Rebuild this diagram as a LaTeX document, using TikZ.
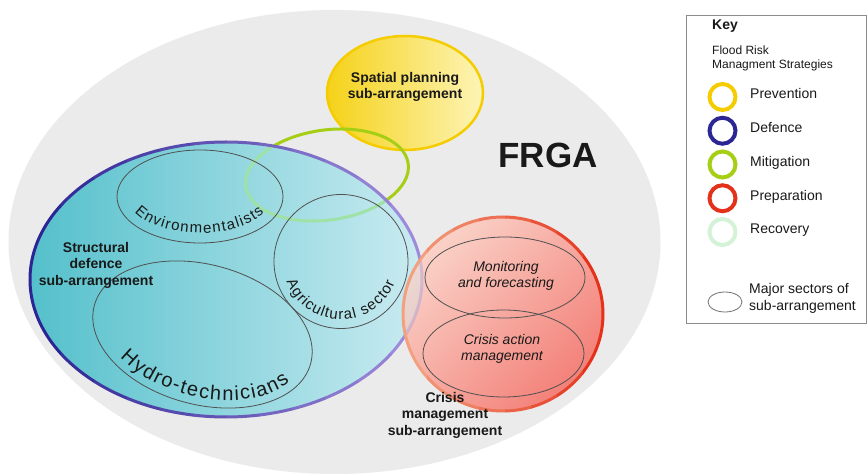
\documentclass[tikz,border=0pt]{standalone}
\usepackage{fontspec}
\setmainfont{Liberation Sans}
\usetikzlibrary{decorations.text}
\definecolor{fgray}{RGB}{235,235,235}
\definecolor{cyanL}{RGB}{84,192,203}
\definecolor{cyanR}{RGB}{202,235,241}
\definecolor{defdark}{RGB}{44,38,148}
\definecolor{deflight}{RGB}{158,138,218}
\definecolor{prevy}{RGB}{244,204,0}
\definecolor{yelL}{RGB}{245,210,25}
\definecolor{yelR}{RGB}{253,244,182}
\definecolor{mitig}{RGB}{165,206,20}
\definecolor{recov}{RGB}{158,226,166}
\definecolor{recovkey}{RGB}{212,242,214}
\definecolor{prepred}{RGB}{228,50,26}
\definecolor{preplight}{RGB}{243,160,128}
\definecolor{redL}{RGB}{250,210,200}
\definecolor{redR}{RGB}{243,128,120}
\definecolor{sectline}{RGB}{80,80,80}
\definecolor{keyline}{RGB}{140,140,140}
\definecolor{txt}{RGB}{25,25,25}

\begin{document}
\begin{tikzpicture}[
  x=1pt, y=1pt,
  sector/.style={draw=sectline, line width=0.8pt},
  ring/.style={line width=3pt},
  keyring/.style={line width=4pt},
  title/.style={font=\fontsize{14}{16.5}\selectfont\bfseries, text=txt, align=center, inner sep=0pt},
  sub/.style={font=\fontsize{14}{16.5}\selectfont\itshape, text=txt, align=center, inner sep=0pt},
  keytxt/.style={font=\fontsize{14}{16.5}\selectfont, text=txt, inner sep=0pt},
  arctext/.style={decorate, decoration={text along path, text align=fit to path,
                  text color=txt, text={#1}}},
]
\path[use as bounding box, fill=white] (0,0) rectangle (868,474);

% centres of the arrangements
\coordinate (frga) at (334.5,232);
\coordinate (def) at (226,194.5);
\coordinate (spat) at (405,381);
\coordinate (mit) at (327,299);
\coordinate (crisis) at (503,160);
\coordinate (env) at (200,277.5);
\coordinate (agri) at (341,212.5);
\coordinate (hydro) at (202.5,139.5);
\coordinate (mon) at (505,196.5);
\coordinate (act) at (503.5,120.5);

\fill[fgray] (frga) ellipse [x radius=326, y radius=232];

% spatial planning and mitigation
\filldraw[ring, line width=2.5pt, draw=prevy, left color=yelL, right color=yelR]
  (spat) ellipse [x radius=78, y radius=57];
\draw[ring, draw=mitig, rotate around={8:(mit)}] (mit) ellipse [x radius=82, y radius=45];

% structural defence
\fill[left color=cyanL, right color=cyanR] (def) ellipse [x radius=196, y radius=137.5];
\begin{scope}
  \clip (def) ellipse [x radius=196, y radius=137.5];
  \draw[ring, draw=recov, rotate around={8:(mit)}] (mit) ellipse [x radius=82, y radius=45];
\end{scope}
\foreach \i in {0,...,11}{
  \pgfmathsetmacro{\mix}{100-100*\i/11}
  \begin{scope}
    \clip (28+33*\i,0) rectangle (61.5+33*\i,474);
    \draw[ring, draw=defdark!\mix!deflight] (def) ellipse [x radius=196, y radius=137.5];
  \end{scope}
}
\draw[sector] (env) ellipse [x radius=83, y radius=46.5];
\draw[sector] (agri) circle [radius=67];
\draw[sector, rotate around={-15:(hydro)}] (hydro) ellipse [x radius=112, y radius=70];

% crisis management
\fill[top color=redL, bottom color=redR, shading angle=45]
  (crisis) ellipse [x radius=100, y radius=97];
\begin{scope}
  \clip (crisis) ellipse [x radius=100, y radius=97];
  \fill[cyanR, opacity=0.3] (def) ellipse [x radius=196, y radius=137.5];
  \draw[ring, draw=deflight, opacity=0.35] (def) ellipse [x radius=196, y radius=137.5];
\end{scope}
\foreach \i in {0,...,7}{
  \pgfmathsetmacro{\mix}{100-100*\i/7}
  \begin{scope}
    \clip (401+26*\i,0) rectangle (427.5+26*\i,474);
    \draw[ring, draw=preplight!\mix!prepred] (crisis) ellipse [x radius=100, y radius=97];
  \end{scope}
}
\draw[sector] (mon) ellipse [x radius=80, y radius=40.5];
\draw[sector] (act) ellipse [x radius=80.5, y radius=43.5];

% labels
\node[title] (spatlbl) at (405,387) {Spatial planning\\sub-arrangement};
\node[title, font=\fontsize{35}{40}\selectfont\bfseries] (frgalbl) at (548,319) {FRGA};
\node[title] (deflbl) at (96,209) {Structural\\defence\\sub-arrangement};
\node[title] (crisislbl) at (445,59) {Crisis\\management\\sub-arrangement};
\node[sub] (monlbl) at (506,198) {Monitoring\\and forecasting};
\node[sub] (actlbl) at (502,125) {Crisis action\\management};
\path[arctext={|\fontsize{15}{18}\selectfont|Environmentalists}]
  (134.7,262.1) arc[start angle=205, end angle=333, x radius=72, y radius=36.5];
\path[arctext={|\fontsize{15}{18}\selectfont|Agricultural sector}]
  (286.5,192.7) arc[start angle=200, end angle=338, radius=58];
\path[arctext={|\fontsize{20}{24}\selectfont|Hydro-technicians}]
  plot[domain=225:338, samples=40]
  ({202.5+104*cos(\x)*cos(15)+62*sin(\x)*sin(15)}, {139.5-104*cos(\x)*sin(15)+62*sin(\x)*cos(15)});

% key
\draw[keyline, line width=1pt] (686,150) rectangle (866,458);
\node[keytxt, font=\fontsize{14}{16.5}\selectfont\bfseries, anchor=base west] (keytitle) at (712,444) {Key};
\node[keytxt, font=\fontsize{12}{14}\selectfont, anchor=base west] (keyfrm) at (712,419) {Flood Risk};
\node[keytxt, font=\fontsize{12}{14}\selectfont, anchor=base west] (keyfrm2) at (712,405.5) {Managment Strategies};
\foreach \name/\col [count=\i from 0] in {Prevention/prevy, Defence/defdark, Mitigation/mitig,
                                          Preparation/prepred, Recovery/recovkey}{
  \draw[keyring, draw=\col] (722.5,377-33.75*\i) circle [radius=13];
  \node[keytxt, anchor=base west] (key\i) at (750,375-33.75*\i) {\name};
}
\draw[sector, draw=sectline!80] (725,172) ellipse [x radius=17, y radius=10];
\node[keytxt, align=left, anchor=west] (keysect) at (749,175.5) {Major sectors of\\sub-arrangement};
\end{tikzpicture}
\end{document}
